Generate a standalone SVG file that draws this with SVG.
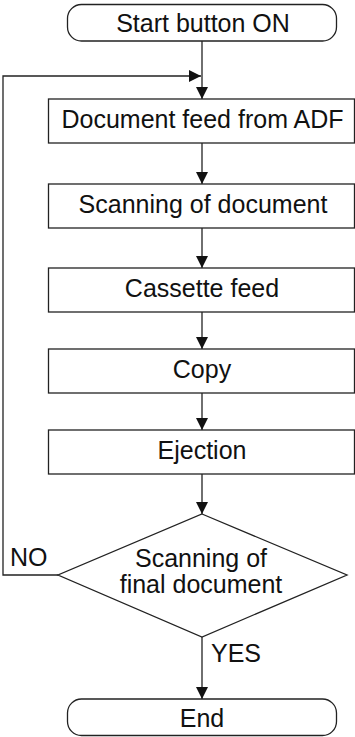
<svg xmlns="http://www.w3.org/2000/svg" width="355" height="737" viewBox="0 0 355 737">
<style>
.s{fill:#fff;stroke:#222;stroke-width:1.3}
.t{font-family:"Liberation Sans",Arial,sans-serif;font-size:25px;fill:#111;text-anchor:middle}
.l{font-family:"Liberation Sans",Arial,sans-serif;font-size:25px;fill:#111}
.c{fill:none;stroke:#222;stroke-width:1.3}
</style>
<defs>
<marker id="a" viewBox="0 0 12 12" refX="12" refY="6" markerWidth="12" markerHeight="12" markerUnits="userSpaceOnUse" orient="auto">
<path d="M0,0 L12,6 L0,12 Z" fill="#111"/>
</marker>
</defs>
<g id="connectors">
<path class="c" d="M202,41 V99" marker-end="url(#a)"/>
<path class="c" d="M202,143 V184" marker-end="url(#a)"/>
<path class="c" d="M202,228 V268" marker-end="url(#a)"/>
<path class="c" d="M202,312 V349" marker-end="url(#a)"/>
<path class="c" d="M202,393 V430" marker-end="url(#a)"/>
<path class="c" d="M202,474 V514" marker-end="url(#a)"/>
<path class="c" d="M202,637 V699" marker-end="url(#a)"/>
<path class="c" d="M58,575 H3 V76 H201" marker-end="url(#a)"/>
<text class="l" x="10" y="566">NO</text>
<text class="l" x="211" y="662">YES</text>
</g>
<g id="start">
<rect class="s" x="67.5" y="4.5" width="269" height="36.5" rx="14" ry="14"/>
<text class="t" x="203" y="31.5">Start button ON</text>
</g>
<g id="feed">
<rect class="s" x="48.5" y="99" width="306" height="44"/>
<text class="t" x="202.5" y="128">Document feed from ADF</text>
</g>
<g id="scan">
<rect class="s" x="48.5" y="184" width="306" height="44"/>
<text class="t" x="203" y="213">Scanning of document</text>
</g>
<g id="cassette">
<rect class="s" x="48.5" y="268" width="306" height="44"/>
<text class="t" x="202" y="297">Cassette feed</text>
</g>
<g id="copy">
<rect class="s" x="48.5" y="349" width="306" height="44"/>
<text class="t" x="202" y="378">Copy</text>
</g>
<g id="eject">
<rect class="s" x="48.5" y="430" width="306" height="44"/>
<text class="t" x="202" y="459">Ejection</text>
</g>
<g id="decision">
<path class="s" d="M202,514 L347,575 L202,637 L58,575 Z"/>
<text class="t" x="201" y="567">Scanning of</text>
<text class="t" x="201" y="593">final document</text>
</g>
<g id="end">
<rect class="s" x="67.5" y="699" width="269" height="36.5" rx="14" ry="14"/>
<text class="t" x="202" y="727">End</text>
</g>
</svg>
